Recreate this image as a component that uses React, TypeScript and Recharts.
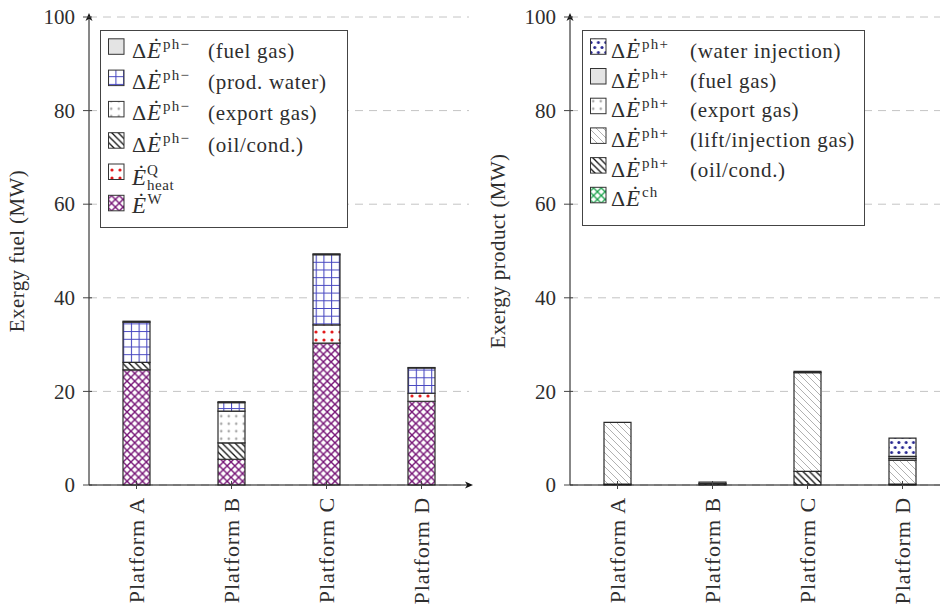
import React from 'react';
import { BarChart, Bar, XAxis, YAxis, CartesianGrid } from 'recharts';

// ---------- data ----------
const categories = ['Platform A', 'Platform B', 'Platform C', 'Platform D'];
const yTicks = [0, 20, 40, 60, 80, 100];

// Exergy fuel (MW), stacked bottom -> top
const fuelWork = [24.6, 5.5, 30.3, 17.9];
const fuelHeat = [0, 0, 3.9, 1.7];
const fuelOil = [1.6, 3.5, 0, 0];
const fuelExportGas = [0, 6.8, 0, 0];
const fuelProdWater = [8.6, 1.8, 15.0, 5.4];
const fuelFuelGas = [0.2, 0.2, 0.2, 0.1];

// Exergy product (MW), stacked bottom -> top
const prodChem = [0, 0, 0, 0];
const prodOil = [0.2, 0.3, 2.9, 0.2];
const prodLiftGas = [13.2, 0, 21.1, 5.1];
const prodExportGas = [0, 0, 0, 0.4];
const prodFuelGas = [0, 0.3, 0.3, 0.4];
const prodWaterInj = [0, 0, 0, 3.9];

const fuelLegendNames = ['fuel gas', 'prod. water', 'export gas', 'oil/cond.'];
const prodLegendNames = ['water injection', 'fuel gas', 'export gas', 'lift/injection gas', 'oil/cond.'];

const fuelData = categories.map((name, i) => ({
  name,
  work: fuelWork[i],
  heat: fuelHeat[i],
  oil: fuelOil[i],
  exportGas: fuelExportGas[i],
  prodWater: fuelProdWater[i],
  fuelGas: fuelFuelGas[i],
}));

const prodData = categories.map((name, i) => ({
  name,
  chem: prodChem[i],
  oil: prodOil[i],
  liftGas: prodLiftGas[i],
  exportGas: prodExportGas[i],
  fuelGas: prodFuelGas[i],
  waterInj: prodWaterInj[i],
}));

// ---------- styling ----------
const FONT = "'Liberation Serif', 'Times New Roman', serif";
const TEXT = '#2e2e2e';
const EDGE = '#2a2a2a';
const FUELGAS_FILL = '#e4e4e4';

function patternDefs(p: string) {
  return (
    <defs>
      <pattern id={`${p}-grid`} patternUnits="userSpaceOnUse" width={7.7} height={7.7}>
        <rect width={7.7} height={7.7} fill="#fff" />
        <path d="M0,0.5 H7.7 M0.5,0 V7.7" stroke="#4646c0" strokeWidth={1.1} />
      </pattern>
      <pattern id={`${p}-dotsGray`} patternUnits="userSpaceOnUse" width={7.5} height={7.5}>
        <rect width={7.5} height={7.5} fill="#fff" />
        <circle cx={3.75} cy={3.75} r={1.3} fill="#aaaaaa" />
      </pattern>
      <pattern id={`${p}-nwBlack`} patternUnits="userSpaceOnUse" width={6.5} height={6.5}>
        <rect width={6.5} height={6.5} fill="#fff" />
        <path d="M0,0 L6.5,6.5 M-1,5.5 L1,7.5 M5.5,-1 L7.5,1" stroke="#111" strokeWidth={1.3} />
      </pattern>
      <pattern id={`${p}-dotsRed`} patternUnits="userSpaceOnUse" width={8} height={8}>
        <rect width={8} height={8} fill="#fff" />
        <circle cx={4} cy={4} r={1.6} fill="#e31a1c" />
      </pattern>
      <pattern id={`${p}-crossPurple`} patternUnits="userSpaceOnUse" width={7.7} height={7.7}>
        <rect width={7.7} height={7.7} fill="#fff" />
        <path d="M0,0 L7.7,7.7 M7.7,0 L0,7.7" stroke="#761476" strokeWidth={1.4} />
      </pattern>
      <pattern id={`${p}-nwGray`} patternUnits="userSpaceOnUse" width={7} height={7}>
        <rect width={7} height={7} fill="#fff" />
        <path d="M0,0 L7,7 M-1,6 L1,8 M6,-1 L8,1" stroke="#a8a8a8" strokeWidth={0.9} />
      </pattern>
      <pattern id={`${p}-dotsBlue`} patternUnits="userSpaceOnUse" width={7.3} height={10}>
        <rect width={7.3} height={10} fill="#fff" />
        <circle cx={1.8} cy={2.5} r={1.5} fill="#272790" />
        <circle cx={5.45} cy={7.5} r={1.5} fill="#272790" />
      </pattern>
      <pattern id={`${p}-crossGreen`} patternUnits="userSpaceOnUse" width={7.7} height={7.7}>
        <rect width={7.7} height={7.7} fill="#fff" />
        <path d="M0,0 L7.7,7.7 M7.7,0 L0,7.7" stroke="#18a048" strokeWidth={1.3} />
      </pattern>
      <marker
        id={`${p}-arrow`}
        markerUnits="userSpaceOnUse"
        markerWidth={10}
        markerHeight={10}
        refX={4}
        refY={4}
        orient="auto-start-reverse"
        viewBox="0 0 10 8"
      >
        <path d="M0,0.5 L8,4 L0,7.5 L2.2,4 Z" fill="#111" />
      </marker>
    </defs>
  );
}

const XTick = (props: any) => {
  const { x, y, payload } = props;
  const axisY = y - 12;
  return (
    <g>
      <line x1={x} x2={x} y1={axisY - 4} y2={axisY + 4} stroke="#444" strokeWidth={1} />
      <text
        x={x}
        y={y}
        transform={`rotate(-90 ${x} ${y})`}
        textAnchor="end"
        dy="0.33em"
        fontFamily={FONT}
        fontSize={22}
        letterSpacing={0.9}
        fill={TEXT}
      >
        {payload.value}
      </text>
    </g>
  );
};

const YTick = (props: any) => {
  const { x, y, payload } = props;
  const axisX = x + 14;
  return (
    <g>
      <line x1={axisX - 6} x2={axisX + 3} y1={y} y2={y} stroke="#444" strokeWidth={1} />
      <text x={x} y={y} textAnchor="end" dy="0.34em" fontFamily={FONT} fontSize={21} fill={TEXT}>
        {payload.value}
      </text>
    </g>
  );
};

const YLabel = (props: any) => {
  const { viewBox, text } = props;
  const vb = viewBox || { x: 0, y: 17, width: 89, height: 468 };
  const cx = vb.x + 24;
  const cy = vb.y + vb.height / 2;
  return (
    <text
      x={cx}
      y={cy}
      transform={`rotate(-90 ${cx} ${cy})`}
      textAnchor="middle"
      fontFamily={FONT}
      fontSize={21}
      letterSpacing={0.4}
      fill={TEXT}
    >
      {text}
    </text>
  );
};

const CHART_W = 480;
const CHART_H = 605;
const MARGIN = { top: 17, right: 11, bottom: 0, left: 0 };

function FuelChart() {
  const p = 'cf';
  return (
    <BarChart width={CHART_W} height={CHART_H} data={fuelData} margin={MARGIN} barSize={27}>
      {patternDefs(p)}
      <CartesianGrid vertical={false} stroke="#c4c4c4" strokeDasharray="8 6" />
      <XAxis
        dataKey="name"
        interval={0}
        height={120}
        tickSize={4}
        tickMargin={8}
        tickLine={false}
        tick={<XTick />}
        axisLine={{ stroke: '#111', strokeWidth: 1, markerEnd: `url(#${p}-arrow)` }}
      />
      <YAxis
        domain={[0, 100]}
        ticks={yTicks}
        interval={0}
        width={89}
        tickSize={6}
        tickMargin={8}
        tickLine={false}
        tick={<YTick />}
        axisLine={{ stroke: '#111', strokeWidth: 1, markerStart: `url(#${p}-arrow)` }}
        label={<YLabel text="Exergy fuel (MW)" />}
      />
      <Bar dataKey="work" stackId="s" fill={`url(#${p}-crossPurple)`} stroke={EDGE} strokeWidth={1.2} isAnimationActive={false} />
      <Bar dataKey="heat" stackId="s" fill={`url(#${p}-dotsRed)`} stroke={EDGE} strokeWidth={1.2} isAnimationActive={false} />
      <Bar dataKey="oil" stackId="s" fill={`url(#${p}-nwBlack)`} stroke={EDGE} strokeWidth={1.2} isAnimationActive={false} />
      <Bar dataKey="exportGas" stackId="s" fill={`url(#${p}-dotsGray)`} stroke={EDGE} strokeWidth={1.2} isAnimationActive={false} />
      <Bar dataKey="prodWater" stackId="s" fill={`url(#${p}-grid)`} stroke={EDGE} strokeWidth={1.2} isAnimationActive={false} />
      <Bar dataKey="fuelGas" stackId="s" fill={FUELGAS_FILL} stroke={EDGE} strokeWidth={1.2} isAnimationActive={false} />
    </BarChart>
  );
}

function ProductChart() {
  const p = 'cp';
  return (
    <BarChart width={CHART_W} height={CHART_H} data={prodData} margin={MARGIN} barSize={27}>
      {patternDefs(p)}
      <CartesianGrid vertical={false} stroke="#c4c4c4" strokeDasharray="8 6" />
      <XAxis
        dataKey="name"
        interval={0}
        height={120}
        tickSize={4}
        tickMargin={8}
        tickLine={false}
        tick={<XTick />}
        axisLine={{ stroke: '#111', strokeWidth: 1, markerEnd: `url(#${p}-arrow)` }}
      />
      <YAxis
        domain={[0, 100]}
        ticks={yTicks}
        interval={0}
        width={89}
        tickSize={6}
        tickMargin={8}
        tickLine={false}
        tick={<YTick />}
        axisLine={{ stroke: '#111', strokeWidth: 1, markerStart: `url(#${p}-arrow)` }}
        label={<YLabel text="Exergy product (MW)" />}
      />
      <Bar dataKey="chem" stackId="s" fill={`url(#${p}-crossGreen)`} stroke={EDGE} strokeWidth={1.2} isAnimationActive={false} />
      <Bar dataKey="oil" stackId="s" fill={`url(#${p}-nwBlack)`} stroke={EDGE} strokeWidth={1.2} isAnimationActive={false} />
      <Bar dataKey="liftGas" stackId="s" fill={`url(#${p}-nwGray)`} stroke={EDGE} strokeWidth={1.2} isAnimationActive={false} />
      <Bar dataKey="exportGas" stackId="s" fill={`url(#${p}-dotsGray)`} stroke={EDGE} strokeWidth={1.2} isAnimationActive={false} />
      <Bar dataKey="fuelGas" stackId="s" fill={FUELGAS_FILL} stroke={EDGE} strokeWidth={1.2} isAnimationActive={false} />
      <Bar dataKey="waterInj" stackId="s" fill={`url(#${p}-dotsBlue)`} stroke={EDGE} strokeWidth={1.2} isAnimationActive={false} />
    </BarChart>
  );
}

type Entry = { fill: string; kind: 'delta' | 'heat' | 'work' | 'chem'; sup?: string; text?: string };

function LegendBox(props: {
  left: number; top: number; width: number; height: number;
  entries: Entry[]; rowH: number; deltaX: number; eX: number; supX: number; textX: number; prefix: string;
}) {
  const { left, top, width, height, entries, rowH, deltaX, eX, supX, textX, prefix } = props;
  return (
    <svg
      width={width + 1}
      height={height + 1}
      style={{ position: 'absolute', left, top, overflow: 'visible' }}
    >
      {patternDefs(prefix)}
      <rect x={0.5} y={0.5} width={width} height={height} fill="#fff" stroke="#444" strokeWidth={1} />
      {entries.map((e, i) => {
        const sy = 8.3 + i * rowH;
        const base = sy + 19.5;
        const fill = e.fill.startsWith('#') ? e.fill : `url(#${prefix}-${e.fill})`;
        return (
          <g key={i} fontFamily={FONT} fill={TEXT}>
            <rect x={8.5} y={sy + 0.5} width={15.5} height={15.5} fill={fill} stroke="#333" strokeWidth={1} />
            {e.kind === 'delta' || e.kind === 'chem' ? (
              <>
                <text x={deltaX} y={base} fontSize={22}>Δ</text>
                <text x={eX} y={base} fontSize={23} fontStyle="italic">Ė</text>
                <text x={supX} y={base - 9} fontSize={15} letterSpacing={1.2}>{e.sup}</text>
              </>
            ) : null}
            {e.kind === 'heat' ? (
              <>
                <text x={deltaX} y={base + 1.5} fontSize={23} fontStyle="italic">Ė</text>
                <text x={deltaX + 15} y={base - 8} fontSize={15}>Q</text>
                <text x={deltaX + 15} y={base + 6.5} fontSize={15} letterSpacing={0.6}>heat</text>
              </>
            ) : null}
            {e.kind === 'work' ? (
              <>
                <text x={deltaX} y={base - 1} fontSize={23} fontStyle="italic">Ė</text>
                <text x={deltaX + 15.5} y={base - 10} fontSize={15}>W</text>
              </>
            ) : null}
            {e.text ? (
              <text x={textX} y={base} fontSize={21} letterSpacing={0.7}>({e.text})</text>
            ) : null}
          </g>
        );
      })}
    </svg>
  );
}

export default function App() {
  const fuelEntries: Entry[] = [
    { fill: FUELGAS_FILL, kind: 'delta', sup: 'ph−', text: fuelLegendNames[0] },
    { fill: 'grid', kind: 'delta', sup: 'ph−', text: fuelLegendNames[1] },
    { fill: 'dotsGray', kind: 'delta', sup: 'ph−', text: fuelLegendNames[2] },
    { fill: 'nwBlack', kind: 'delta', sup: 'ph−', text: fuelLegendNames[3] },
    { fill: 'dotsRed', kind: 'heat' },
    { fill: 'crossPurple', kind: 'work' },
  ];
  const prodEntries: Entry[] = [
    { fill: 'dotsBlue', kind: 'delta', sup: 'ph+', text: prodLegendNames[0] },
    { fill: FUELGAS_FILL, kind: 'delta', sup: 'ph+', text: prodLegendNames[1] },
    { fill: 'dotsGray', kind: 'delta', sup: 'ph+', text: prodLegendNames[2] },
    { fill: 'nwGray', kind: 'delta', sup: 'ph+', text: prodLegendNames[3] },
    { fill: 'nwBlack', kind: 'delta', sup: 'ph+', text: prodLegendNames[4] },
    { fill: 'crossGreen', kind: 'chem', sup: 'ch' },
  ];
  return (
    <div
      style={{
        position: 'fixed',
        left: 0,
        top: 0,
        width: 940,
        height: 605,
        overflow: 'hidden',
        background: '#fff',
      }}
    >
      <div style={{ position: 'absolute', left: 0, top: 0 }}>
        <FuelChart />
      </div>
      <div style={{ position: 'absolute', left: 481, top: 0 }}>
        <ProductChart />
      </div>
      <LegendBox
        left={100} top={30} width={247} height={197}
        entries={fuelEntries} rowH={31.3}
        deltaX={32} eX={47} supX={63} textX={108} prefix="lf"
      />
      <LegendBox
        left={582} top={30} width={282} height={195}
        entries={prodEntries} rowH={29.7}
        deltaX={29} eX={44} supX={60} textX={108} prefix="lp"
      />
    </div>
  );
}
